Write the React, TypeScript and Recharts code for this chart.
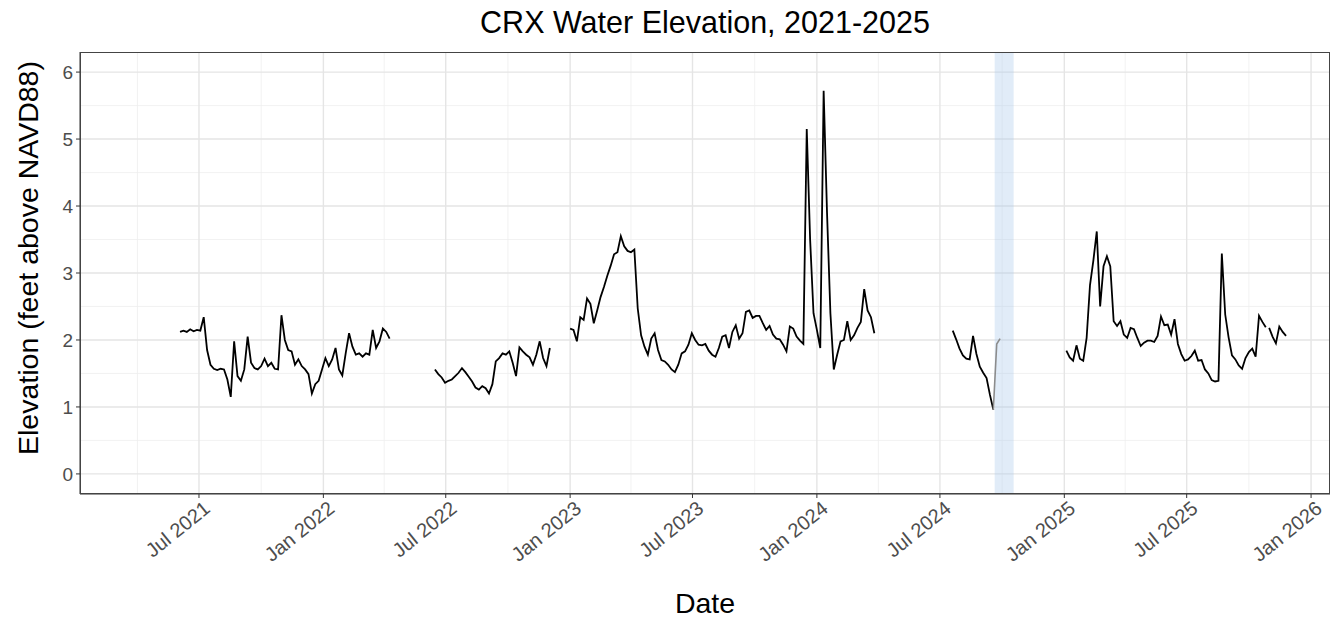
import {
  CartesianGrid,
  Line,
  LineChart,
  ReferenceArea,
  XAxis,
  YAxis,
} from 'recharts'

// CRX 수위 (NAVD88 기준 ft) — 5일 간격 샘플, 구간 사이 결측은 선을 끊음.

const STEP_DAYS = 5
const DAY_MS = 86400000

const seg1Start = '2021-06-03'
const seg1Values = [
  2.12, 2.14, 2.12, 2.16, 2.13, 2.15, 2.14, 2.34, 1.85, 1.63,
  1.57, 1.55, 1.57, 1.56, 1.41, 1.15, 1.98, 1.46, 1.39, 1.56,
  2.05, 1.66, 1.58, 1.56, 1.61, 1.72, 1.61, 1.66, 1.57, 1.56,
  2.37, 2.0, 1.85, 1.83, 1.63, 1.71, 1.61, 1.56, 1.49, 1.2,
  1.34, 1.39, 1.56, 1.73, 1.61, 1.71, 1.88, 1.56, 1.47, 1.8,
  2.1, 1.9, 1.78, 1.8, 1.75, 1.8, 1.78, 2.15, 1.88, 1.98,
  2.17, 2.12, 2.02,
]

const seg2Start = '2022-06-15'
const seg2Values = [
  1.56, 1.49, 1.44, 1.36, 1.39, 1.41, 1.46, 1.51, 1.58, 1.52,
  1.45, 1.38, 1.29, 1.26, 1.31, 1.28, 1.2, 1.34, 1.68, 1.73,
  1.8, 1.78, 1.83, 1.66, 1.46, 1.89, 1.83, 1.78, 1.74, 1.63,
  1.78, 1.98, 1.73, 1.61, 1.88,
]

const seg3Start = '2023-01-01'
const seg3Values = [
  2.17, 2.15, 1.98, 2.34, 2.3, 2.62, 2.54, 2.25, 2.44, 2.64,
  2.79, 2.96, 3.11, 3.28, 3.31, 3.55, 3.4, 3.33, 3.31, 3.35,
  2.47, 2.07, 1.9, 1.78, 2.02, 2.1, 1.85, 1.7, 1.68, 1.63,
  1.56, 1.52, 1.63, 1.8, 1.83, 1.93, 2.1, 2.0, 1.93, 1.92,
  1.94, 1.84, 1.78, 1.75, 1.88,
  2.05, 2.07, 1.88, 2.12, 2.22, 2.02, 2.1, 2.42, 2.44, 2.33,
  2.36, 2.36, 2.25, 2.15, 2.21, 2.08, 2.02, 2.01, 1.93, 1.83,
  2.2, 2.17, 2.05, 1.99, 1.94, 5.15, 3.5, 2.4, 2.15, 1.88,
  5.72, 3.9, 2.4, 1.56, 1.78, 1.98, 2.0, 2.28, 2.0, 2.07,
  2.18, 2.27, 2.76, 2.44, 2.34, 2.1,
]

const seg4Start = '2024-07-20'
const seg4Values = [2.14, 2.01, 1.87, 1.77, 1.72, 1.71, 2.06, 1.79, 1.6, 1.51, 1.43, 1.18, 0.96]

// 음영 구간 안쪽 (회색 선)
const seg4FlagStart = '2024-09-18'
const seg4FlagValues = [0.96, 1.94, 2.02]

const seg5Start = '2025-01-04'
const seg5Values = [
  1.84, 1.74, 1.69, 1.92, 1.72, 1.69, 2.03, 2.82, 3.19, 3.62,
  2.5, 3.1, 3.25, 3.1, 2.28, 2.21, 2.28, 2.08, 2.03, 2.18,
  2.16, 2.03, 1.91, 1.96, 1.99, 1.99, 1.97, 2.06, 2.35, 2.22,
  2.23, 2.08, 2.31, 1.94, 1.79, 1.69, 1.71, 1.76, 1.84, 1.69,
  1.7, 1.56, 1.5, 1.4, 1.38, 1.39, 3.29, 2.38, 2.04, 1.77,
  1.71, 1.62, 1.57, 1.73, 1.82, 1.87, 1.75, 2.36, 2.27, 2.19,
]

const seg6Start = '2025-10-31'
const seg6Values = [2.18, 2.05, 1.95, 2.2, 2.12, 2.06]

const bandStart = '2024-09-20'
const bandEnd = '2024-10-18'

const tickDates = [
  '2021-07-01', '2022-01-01', '2022-07-01', '2023-01-01', '2023-07-01',
  '2024-01-01', '2024-07-01', '2025-01-01', '2025-07-01', '2026-01-01',
]
const tickLabels = [
  'Jul 2021', 'Jan 2022', 'Jul 2022', 'Jan 2023', 'Jul 2023',
  'Jan 2024', 'Jul 2024', 'Jan 2025', 'Jul 2025', 'Jan 2026',
]
const minorDates = [
  '2021-04-01', '2021-10-01', '2022-04-01', '2022-10-01', '2023-04-01',
  '2023-10-01', '2024-04-01', '2024-10-01', '2025-04-01', '2025-10-01',
]
const yTicks = [0, 1, 2, 3, 4, 5, 6]
const yMinor = [0.5, 1.5, 2.5, 3.5, 4.5, 5.5]

const xDomain = [Date.parse('2021-01-06'), Date.parse('2026-01-29')]

const toSeries = (start: string, values: number[]) => {
  const t0 = Date.parse(start)
  return values.map((v, i) => ({ date: t0 + i * STEP_DAYS * DAY_MS, elevation: v }))
}

const segments = [
  toSeries(seg1Start, seg1Values),
  toSeries(seg2Start, seg2Values),
  toSeries(seg3Start, seg3Values),
  toSeries(seg4Start, seg4Values),
  toSeries(seg5Start, seg5Values),
  toSeries(seg6Start, seg6Values),
]
const flagged = toSeries(seg4FlagStart, seg4FlagValues)

const majorX = tickDates.map((d) => Date.parse(d))
const minorX = minorDates.map((d) => Date.parse(d))

const FONT = '"Liberation Sans", Arial, sans-serif'
const INK = '#4d4d4d'

function DateTick({ x, y, payload }: any) {
  const i = majorX.indexOf(payload.value)
  return (
    <g transform={`translate(${x + 3},${y - 1})`}>
      <text x={0} y={0} dy="0.75em" textAnchor="end" transform="rotate(-39)" fill={INK} fontSize={20} fontFamily={FONT}>
        {tickLabels[i]}
      </text>
    </g>
  )
}

export default function App() {
  return (
    <div style={{ position: 'relative', width: 1335, height: 613, fontFamily: FONT }}>
      <div style={{ position: 'absolute', left: 72, width: 1250, top: -4, textAlign: 'center', fontSize: 30.5, lineHeight: '36px', color: '#000' }}>
        CRX Water Elevation, 2021-2025
      </div>
      <div style={{ position: 'absolute', left: 72, width: 1250, top: 579, textAlign: 'center', fontSize: 28.5, lineHeight: '32px', color: '#000' }}>
        Date
      </div>
      <div
        style={{
          position: 'absolute',
          left: 20,
          top: 250,
          transform: 'translate(-50%, -50%) rotate(-90deg)',
          whiteSpace: 'nowrap',
          fontSize: 28.5,
          lineHeight: '32px',
          color: '#000',
        }}
      >
        Elevation (feet above NAVD88)
      </div>

      <LineChart width={1335} height={613} margin={{ top: 44, right: 13, left: 42, bottom: 67 }}>
        <CartesianGrid horizontalValues={yMinor} verticalValues={minorX} stroke="#efefef" strokeWidth={0.8} />
        <CartesianGrid horizontalValues={yTicks} verticalValues={majorX} stroke="#e5e5e5" strokeWidth={1.4} />
        <XAxis
          dataKey="date"
          type="number"
          domain={xDomain}
          allowDataOverflow
          ticks={majorX}
          tick={<DateTick />}
          tickSize={4}
          tickLine={{ stroke: '#333' }}
          axisLine={{ stroke: '#333' }}
          height={60}
          interval={0}
        />
        <YAxis
          type="number"
          domain={[-0.3, 6.3]}
          allowDataOverflow
          ticks={yTicks}
          width={30}
          tickSize={4}
          tickMargin={3}
          tickLine={{ stroke: '#333' }}
          axisLine={{ stroke: '#333' }}
          tick={{ fill: INK, fontSize: 19, fontFamily: FONT }}
          interval={0}
        />
        <ReferenceArea x1={Date.parse(bandStart)} x2={Date.parse(bandEnd)} y1={-0.3} y2={6.3} fill="#a8c8ea" fillOpacity={0.35} stroke="none" ifOverflow="hidden" />
        {segments.map((data, i) => (
          <Line
            key={i}
            data={data}
            dataKey="elevation"
            type="linear"
            stroke="#000"
            strokeWidth={1.8}
            dot={false}
            activeDot={false}
            isAnimationActive={false}
          />
        ))}
        <Line data={flagged} dataKey="elevation" type="linear" stroke="#8c8c8c" strokeWidth={1.6} dot={false} activeDot={false} isAnimationActive={false} />
      </LineChart>

      {/* panel border */}
      <div style={{ position: 'absolute', left: 72, top: 44, width: 1250, height: 442, border: '1px solid #444', boxSizing: 'border-box', pointerEvents: 'none' }} />
    </div>
  )
}
